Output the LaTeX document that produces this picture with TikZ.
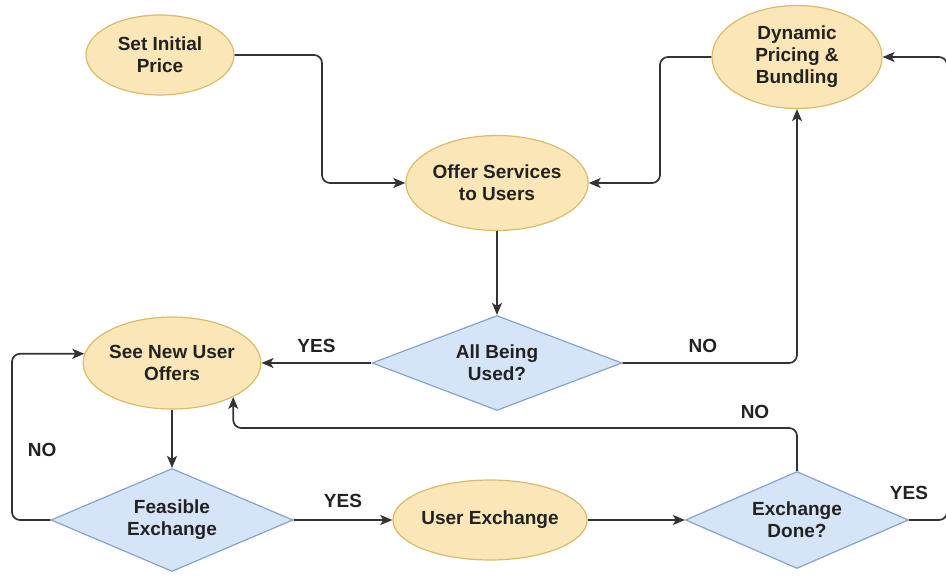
\documentclass[tikz,border=0pt]{standalone}
\usepackage{fontspec}
\setmainfont{Liberation Sans}
\usetikzlibrary{shapes.geometric,arrows.meta}
\definecolor{efill}{HTML}{FAE6B6}
\definecolor{edraw}{HTML}{D9BC6A}
\definecolor{dfill}{HTML}{D6E4F8}
\definecolor{ddraw}{HTML}{86A2CE}
\definecolor{lcol}{HTML}{333333}
\definecolor{tcol}{HTML}{222222}
\begin{document}
\begin{tikzpicture}[x=1pt,y=-1pt,
  txt/.style={font=\fontsize{19}{22}\selectfont\bfseries, text=tcol, align=center},
  oval/.style={ellipse, draw=edraw, fill=efill, line width=1.2pt, inner sep=0pt, txt},
  choice/.style={diamond, draw=ddraw, fill=dfill, line width=1.2pt, inner sep=0pt, aspect=2, txt},
  conn/.style={draw=lcol, line width=1.7pt, rounded corners=8pt, -{Stealth[length=12pt,width=10pt,inset=3pt]}},
  lbl/.style={txt, inner sep=0pt}]
\useasboundingbox (0,0) rectangle (946,580);
\fill[white] (0,0) rectangle (946,580);

\node[oval, minimum width=148pt, minimum height=80pt] (init) at (160,55) {Set Initial\\Price};
\node[oval, minimum width=170pt, minimum height=103pt] (dyn) at (797,57) {Dynamic\\Pricing \&\\Bundling};
\node[oval, minimum width=165pt, minimum height=95pt] (offer) at (497,183) {Offer Services\\to Users};
\node[choice, minimum width=250pt, minimum height=95pt] (used) at (497,363) {All Being\\Used?};
\node[oval, minimum width=170pt, minimum height=92pt] (see) at (172,363) {See New User\\Offers};
\node[choice, minimum width=242pt, minimum height=103pt] (feas) at (172,520) {Feasible\\Exchange};
\node[oval, minimum width=170pt, minimum height=80pt] (user) at (490,520) {User Exchange};
\node[choice, minimum width=223pt, minimum height=97pt] (done) at (797,520) {Exchange\\Done?};

\coordinate (w1) at (322,120);
\coordinate (w2) at (660,120);
\coordinate (w3) at (12,450);
\coordinate (w4) at (0,428);
\coordinate (w5) at (947,300);

\draw[conn] (init.east) -| (w1) |- (offer.west);
\draw[conn] (dyn.west) -| (w2) |- (offer.east);
\draw[conn] (offer.south) -- (used.north);
\draw[conn] (used.west) -- (see.east) node[lbl, midway, above=9pt] (yes1) {YES};
\draw[conn] (used.east) -| (dyn.south) node[lbl, pos=0.23, above=9pt] (no1) {NO};
\draw[conn] (see.south) -- (feas.north);
\draw[conn] (feas.west) -| (w3) node[lbl, pos=1, right=15pt] (no3) {NO} |- (see.174);
\draw[conn] (feas.east) -- (user.west) node[lbl, midway, above=11pt] (yes2) {YES};
\draw[conn] (user.east) -- (done.west);
\draw[conn] (done.north) |- (w4 -| see.-29) -- (see.-29);
\node[lbl] (no2) at (755,412) {NO};
\draw[conn] (done.east) -| (w5) |- (dyn.east);
\node[lbl] (yes3) at (909,493) {YES};
\end{tikzpicture}
\end{document}
